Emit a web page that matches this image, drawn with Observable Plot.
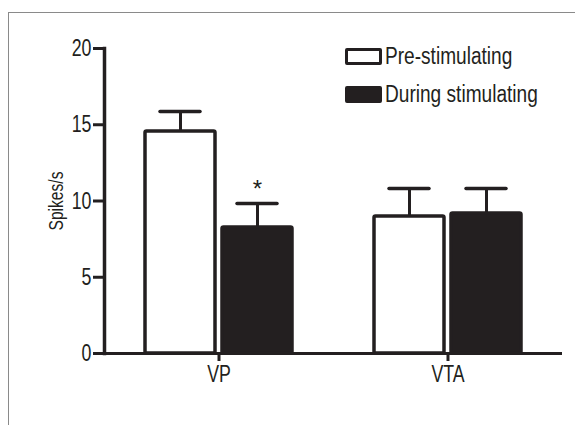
<!DOCTYPE html>
<html>
<head>
<meta charset="utf-8">
<script src="https://cdn.jsdelivr.net/npm/d3@7"></script>
<script src="https://cdn.jsdelivr.net/npm/@observablehq/plot@0.6"></script>
<style>
  html, body { margin: 0; padding: 0; background: #fff; }
  #wrap { position: relative; width: 575px; height: 425px; overflow: hidden; }
  #border { position: absolute; left: 8px; top: 12px; right: -2px; bottom: -2px;
            border-top: 1px solid #8a8a8a; border-left: 1px solid #8a8a8a; }
  #chart { position: absolute; left: 0; top: 0; }
  #legend { position: absolute; left: 345px; top: 37px; font-family: "Liberation Sans", Arial, sans-serif;
            font-size: 23px; color: #231f20; white-space: nowrap; }
  .item { display: flex; align-items: center; height: 38px; }
  .sw { box-sizing: border-box; flex: none; width: 37px; height: 17px; border: 3.5px solid #231f20; border-radius: 2px; margin-right: 3px; }
  .lt { display: inline-block; transform: scaleX(0.83); transform-origin: 0 50%; }
  svg g[aria-label="y-axis label"] text { font-size: 20px; }
</style>
</head>
<body>
<div id="wrap">
  <div id="border"></div>
  <div id="chart"></div>
  <div id="legend"></div>
</div>
<script>
const groups = ["VP", "VTA"];
const conditions = ["Pre-stimulating", "During stimulating"];
const preMeans = [14.56, 8.98];
const preSEM = [1.31, 1.84];
const duringMeans = [8.26, 9.18];
const duringSEM = [1.58, 1.64];
const duringSig = ["*", ""];
const yTicks = [0, 5, 10, 15, 20];
const fills = ["#ffffff", "#231f20"];
const ink = "#231f20";

const rows = [];
groups.forEach((g, i) => {
  rows.push({group: g, cond: conditions[0], value: preMeans[i], upper: preMeans[i] + preSEM[i], sig: ""});
  rows.push({group: g, cond: conditions[1], value: duringMeans[i], upper: duringMeans[i] + duringSEM[i], sig: duringSig[i]});
});

function build(useFrame) {
  return Plot.plot({
    width: 575,
    height: 425,
    marginTop: 48,
    marginBottom: 72,
    marginLeft: 103,
    marginRight: 13,
    style: {fontFamily: '"Liberation Sans", Arial, sans-serif', fontSize: "24px", color: ink, background: "transparent", overflow: "visible"},
    fx: {domain: groups, padding: 0, label: null, axis: "bottom", tickSize: 8, tickPadding: 3},
    x: {domain: conditions, paddingInner: 0.09, paddingOuter: 0.52, axis: null},
    y: {domain: [0, 20], ticks: yTicks, tickSize: 11, tickPadding: 2, line: !useFrame, label: "Spikes/s",
        labelAnchor: "center", labelArrow: "none", labelOffset: 56},
    color: {domain: conditions, range: fills},
    marks: [
      useFrame ? Plot.frame({anchor: "left", facetAnchor: "left", stroke: ink, strokeWidth: 3.5}) : null,
      Plot.ruleX(rows, {fx: "group", x: "cond", y1: "value", y2: "upper", stroke: ink, strokeWidth: 3.5}),
      Plot.tickY(rows, {fx: "group", x: "cond", y: "upper", stroke: ink, strokeWidth: 3.5, strokeLinecap: "round", insetLeft: 15, insetRight: 15}),
      Plot.barY(rows, {fx: "group", x: "cond", y: "value", fill: "cond", stroke: ink, strokeWidth: 3.5, rx: 1.5}),
      Plot.text(rows, {fx: "group", x: "cond", y: "upper", text: "sig", dy: -14, fontSize: 24, fill: ink}),
      Plot.ruleY([0], {stroke: ink, strokeWidth: 3})
    ]
  });
}

let chart = build(true);
// fall back to the scale's own axis line if the anchored frame is not supported
const fr = chart.querySelectorAll('g[aria-label="frame"]');
let bad = fr.length !== 1;
fr.forEach(g => { if (g.querySelector("rect") || g.querySelectorAll("line").length > 1) bad = true; });
if (!fr.length) { const r = chart.querySelector('rect[aria-label="frame"]'); if (r) bad = true; }
if (bad) chart = build(false);
document.getElementById("chart").appendChild(chart);

// thicken axis ticks and the axis line
chart.querySelectorAll("[aria-label]").forEach(g => {
  const lab = g.getAttribute("aria-label");
  if (/label$/.test(lab) || lab === "bar" || lab === "text" || lab === "tick") return;
  if (/axis|frame|line|rule/.test(lab)) {
    g.style.stroke = ink;
    g.querySelectorAll("path, line").forEach(el => { if (!el.getAttribute("stroke-width")) el.style.strokeWidth = "3px"; });
    if (!g.getAttribute("stroke-width")) g.style.strokeWidth = "3px";
  }
});

// condense axis text horizontally (narrow typeface look)
chart.querySelectorAll('g[aria-label*="axis"] text').forEach(t => {
  let tr = t.getAttribute("transform") || "";
  const x = t.getAttribute("x");
  if (x !== null && !isNaN(+x)) { tr += ` translate(${+x},0)`; t.removeAttribute("x"); }
  const isLabel = t.closest('g[aria-label="y-axis label"]');
  t.setAttribute("transform", tr + (isLabel ? " scale(0.78,1)" : " scale(0.74,1)"));
});

const legend = document.getElementById("legend");
conditions.forEach((c, i) => {
  const item = document.createElement("div");
  item.className = "item";
  const sw = document.createElement("div");
  sw.className = "sw";
  sw.style.background = fills[i];
  const t = document.createElement("span");
  t.className = "lt";
  t.textContent = c;
  item.appendChild(sw);
  item.appendChild(t);
  legend.appendChild(item);
});
</script>
</body>
</html>
